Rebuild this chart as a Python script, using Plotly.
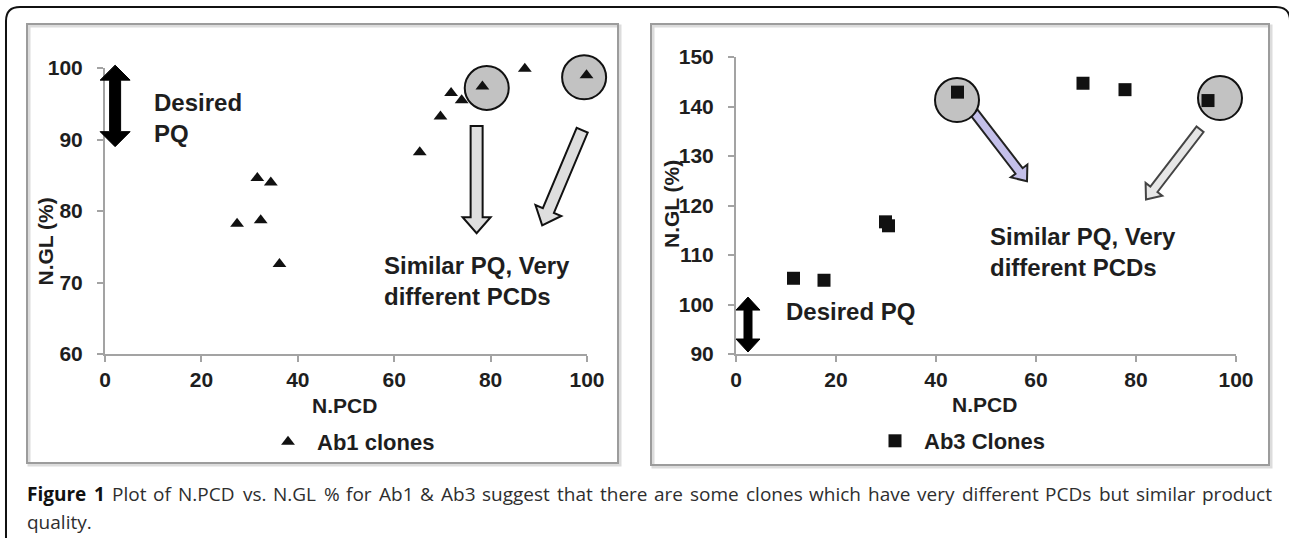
import math
import plotly.graph_objects as go

# ---------------- data ----------------
ab1_pcd = [27.4, 31.6, 32.3, 34.4, 36.2, 65.3, 69.6, 71.8, 74.0, 78.3, 87.1, 99.9]
ab1_gl = [78.2, 84.6, 78.7, 84.0, 72.6, 88.2, 93.2, 96.5, 95.5, 97.4, 99.9, 99.0]
ab3_pcd = [11.5, 17.6, 29.9, 30.5, 44.3, 69.4, 77.8, 94.4]
ab3_gl = [105.3, 104.9, 116.7, 115.9, 142.9, 144.7, 143.4, 141.2]

x_ticks = [0, 20, 40, 60, 80, 100]
y1_ticks = [60, 70, 80, 90, 100]
y2_ticks = [90, 100, 110, 120, 130, 140, 150]

# highlighted clones (circle centres, data units)
ab1_circles = [(79.2, 97.2), (99.4, 98.7)]
ab3_circles = [(44.2, 141.3), (96.8, 141.7)]

# block arrows (start, tip) in data units
ab1_arrows = [((77.1, 91.9), (77.1, 76.9)), ((99.0, 91.3), (90.7, 78.0))]
ab3_arrows = [((47.6, 138.8), (58.2, 124.9)), ((92.8, 135.4), (82.0, 121.2))]
ab1_desired = ((2.1, 100.4), (2.1, 89.0))
ab3_desired = ((2.4, 101.5), (2.4, 90.4))

caption_words = ["Figure", "1", "Plot", "of", "N.PCD", "vs.", "N.GL", "%", "for", "Ab1", "&", "Ab3",
                 "suggest", "that", "there", "are", "some", "clones", "which", "have", "very",
                 "different", "PCDs", "but", "similar", "product"]
caption_bold_words = 2
caption_line2 = "quality."

# ---------------- layout geometry (pixels) ----------------
W, H = 1289, 538
L = dict(x0=105, x1=587, ytop=68, ybot=354, xr=(0, 100), yr=(60, 100))
R = dict(x0=736, x1=1236, ytop=57, ybot=354, xr=(0, 100), yr=(90, 150))


def d2px(ax, x, y):
    px = ax["x0"] + (x - ax["xr"][0]) / (ax["xr"][1] - ax["xr"][0]) * (ax["x1"] - ax["x0"])
    py = ax["ybot"] - (y - ax["yr"][0]) / (ax["yr"][1] - ax["yr"][0]) * (ax["ybot"] - ax["ytop"])
    return px, py


def p2paper(px, py):
    return px / W, 1 - py / H


def path_from_px(pts):
    s = ""
    for i, (px, py) in enumerate(pts):
        X, Y = p2paper(px, py)
        s += ("M" if i == 0 else "L") + f"{X:.5f},{Y:.5f} "
    return s + "Z"


def block_arrow(S, T, w, hw, hl):
    dx, dy = T[0] - S[0], T[1] - S[1]
    ln = math.hypot(dx, dy)
    ux, uy = dx / ln, dy / ln
    nx, ny = -uy, ux
    B = (T[0] - ux * hl, T[1] - uy * hl)
    pts = [
        (S[0] + nx * w / 2, S[1] + ny * w / 2),
        (B[0] + nx * w / 2, B[1] + ny * w / 2),
        (B[0] + nx * hw / 2, B[1] + ny * hw / 2),
        T,
        (B[0] - nx * hw / 2, B[1] - ny * hw / 2),
        (B[0] - nx * w / 2, B[1] - ny * w / 2),
        (S[0] - nx * w / 2, S[1] - ny * w / 2),
    ]
    return path_from_px(pts)


def double_arrow(T1, T2, w, hw, hl):
    dx, dy = T2[0] - T1[0], T2[1] - T1[1]
    ln = math.hypot(dx, dy)
    ux, uy = dx / ln, dy / ln
    nx, ny = -uy, ux
    B1 = (T1[0] + ux * hl, T1[1] + uy * hl)
    B2 = (T2[0] - ux * hl, T2[1] - uy * hl)
    pts = [
        T1,
        (B1[0] + nx * hw / 2, B1[1] + ny * hw / 2),
        (B1[0] + nx * w / 2, B1[1] + ny * w / 2),
        (B2[0] + nx * w / 2, B2[1] + ny * w / 2),
        (B2[0] + nx * hw / 2, B2[1] + ny * hw / 2),
        T2,
        (B2[0] - nx * hw / 2, B2[1] - ny * hw / 2),
        (B2[0] - nx * w / 2, B2[1] - ny * w / 2),
        (B1[0] - nx * w / 2, B1[1] - ny * w / 2),
        (B1[0] - nx * hw / 2, B1[1] - ny * hw / 2),
    ]
    return path_from_px(pts)


# approximate Open Sans advance widths (units per 2048 em) for justification
OS_REG = {"a": 1139, "b": 1255, "c": 975, "d": 1255, "e": 1149, "f": 694, "g": 1122, "h": 1257,
          "i": 518, "l": 518, "m": 1905, "n": 1257, "o": 1237, "p": 1255, "r": 836, "s": 977,
          "t": 723, "u": 1257, "v": 1026, "w": 1593, "y": 1028, ".": 545, "%": 1696, "&": 1481,
          "1": 1171, "3": 1171, "A": 1296, "C": 1292, "D": 1493, "G": 1491, "L": 1063,
          "N": 1599, "P": 1260, "q": 1255}
OS_BOLD = {"F": 1165, "i": 616, "g": 1208, "u": 1337, "r": 963, "e": 1198, "1": 1171}


def word_w(word, size, bold=False):
    tab = OS_BOLD if bold else OS_REG
    return sum(tab.get(ch, 1150) for ch in word) / 2048 * size


FONT = "Liberation Sans, Arial, sans-serif"
TXT = "#1e1e1e"
AXC = "#a3a3a3"

fig = go.Figure()
fig.add_trace(go.Scatter(
    x=ab1_pcd, y=ab1_gl, mode="markers", name="<b>Ab1 clones</b>",
    marker=dict(symbol="triangle-up", size=12, color="#111111"),
    xaxis="x", yaxis="y", legend="legend", showlegend=True, cliponaxis=False,
))
fig.add_trace(go.Scatter(
    x=ab3_pcd, y=ab3_gl, mode="markers", name="<b>Ab3 Clones</b>",
    marker=dict(symbol="square", size=13, color="#111111"),
    xaxis="x2", yaxis="y2", legend="legend2", showlegend=True, cliponaxis=False,
))

shapes = []
# outer rounded border
r = 14
outer = ""
X, Y = p2paper(6, 545)
outer += f"M{X:.5f},{Y:.5f} "
X, Y = p2paper(6, 7 + r)
outer += f"L{X:.5f},{Y:.5f} "
cx, cy = p2paper(6, 7)
ex, ey = p2paper(6 + r, 7)
outer += f"Q{cx:.5f},{cy:.5f} {ex:.5f},{ey:.5f} "
X, Y = p2paper(1290 - r, 7)
outer += f"L{X:.5f},{Y:.5f} "
cx, cy = p2paper(1290, 7)
ex, ey = p2paper(1290, 7 + r)
outer += f"Q{cx:.5f},{cy:.5f} {ex:.5f},{ey:.5f} "
X, Y = p2paper(1290, 545)
outer += f"L{X:.5f},{Y:.5f}"
shapes.append(dict(type="path", path=outer, xref="paper", yref="paper",
                   line=dict(color="#111111", width=2), layer="below"))

# panel frames with soft shadow
for (a, b, c, d) in [(27, 24, 618, 463), (651, 24, 1269, 465)]:
    x0, y1 = p2paper(a + 2, b + 2)
    x1, y0 = p2paper(c + 2, d + 2)
    shapes.append(dict(type="rect", xref="paper", yref="paper", x0=x0, x1=x1, y0=y0, y1=y1,
                       line=dict(color="#dcdcdc", width=3), layer="below"))
    x0, y1 = p2paper(a, b)
    x1, y0 = p2paper(c, d)
    shapes.append(dict(type="rect", xref="paper", yref="paper", x0=x0, x1=x1, y0=y0, y1=y1,
                       line=dict(color="#9c9c9c", width=2), layer="below"))

# block arrows
for (S, T) in ab1_arrows:
    shapes.append(dict(type="path", xref="paper", yref="paper",
                       path=block_arrow(d2px(L, *S), d2px(L, *T), 12, 28, 16),
                       fillcolor="#dedede", line=dict(color="#111111", width=2), layer="below"))
arrow_fills = ["#c4c0ea", "#e6e6e6"]
arrow_lines = ["#222222", "#444444"]
for i, (S, T) in enumerate(ab3_arrows):
    shapes.append(dict(type="path", xref="paper", yref="paper",
                       path=block_arrow(d2px(R, *S), d2px(R, *T), 9, 21, 13),
                       fillcolor=arrow_fills[i], line=dict(color=arrow_lines[i], width=2), layer="below"))

# double arrows (desired PQ)
shapes.append(dict(type="path", xref="paper", yref="paper",
                   path=double_arrow(d2px(L, *ab1_desired[0]), d2px(L, *ab1_desired[1]), 11, 30, 15),
                   fillcolor="#000000", line=dict(color="#000000", width=1), layer="above"))
shapes.append(dict(type="path", xref="paper", yref="paper",
                   path=double_arrow(d2px(R, *ab3_desired[0]), d2px(R, *ab3_desired[1]), 8, 24, 13),
                   fillcolor="#000000", line=dict(color="#000000", width=1), layer="above"))

# highlight circles
for ax, circles in [(L, ab1_circles), (R, ab3_circles)]:
    for (cxd, cyd) in circles:
        X, Y = p2paper(*d2px(ax, cxd, cyd))
        shapes.append(dict(type="circle", xref="paper", yref="paper",
                           xsizemode="pixel", ysizemode="pixel", xanchor=X, yanchor=Y,
                           x0=-22, x1=22, y0=-22, y1=22,
                           fillcolor="#c2c2c2", line=dict(color="#111111", width=2), layer="below"))

annotations = []
big = dict(family=FONT, size=24, color=TXT)
annotations.append(dict(x=9.75, y=93.0, xref="x", yref="y", text="<b>Desired<br>PQ</b>",
                        showarrow=False, xanchor="left", yanchor="middle", align="left", font=big))
annotations.append(dict(x=57.5, y=70.2, xref="x", yref="y", text="<b>Similar PQ, Very<br>different PCDs</b>",
                        showarrow=False, xanchor="left", yanchor="middle", align="left", font=big))
annotations.append(dict(x=9.6, y=98.5, xref="x2", yref="y2", text="<b>Desired PQ</b>",
                        showarrow=False, xanchor="left", yanchor="middle", align="left", font=big))
annotations.append(dict(x=50.4, y=110.6, xref="x2", yref="y2", text="<b>Similar PQ, Very<br>different PCDs</b>",
                        showarrow=False, xanchor="left", yanchor="middle", align="left", font=big))

# axis titles
tf = dict(family=FONT, size=21, color=TXT)
for (px, py, txt, ang) in [(44.5, 242, "N.GL (%)", -90), (671, 204, "N.GL (%)", -90),
                           (344, 405, "N.PCD", 0), (984, 404, "N.PCD", 0)]:
    X, Y = p2paper(px, py)
    annotations.append(dict(x=X, y=Y, xref="paper", yref="paper", text=f"<b>{txt}</b>",
                            showarrow=False, xanchor="center", yanchor="middle", textangle=ang, font=tf))

# caption: justified first line built word by word
CAP_SIZE = 19
cap_font = dict(family="Open Sans, sans-serif", size=CAP_SIZE, color="#2e2e2e")
cap_left, cap_right, cap_y1, cap_y2 = 25, 1270, 494, 522
widths = [word_w(wd, CAP_SIZE, i < caption_bold_words) for i, wd in enumerate(caption_words)]
gap = (cap_right - cap_left - sum(widths)) / (len(caption_words) - 1)
xpos = cap_left
for i, wd in enumerate(caption_words):
    txt = wd.replace("&", "&amp;")
    if i < caption_bold_words:
        txt = f"<b>{txt}</b>"
    X, Y = p2paper(xpos, cap_y1)
    annotations.append(dict(x=X, y=Y, xref="paper", yref="paper", text=txt, showarrow=False,
                            xanchor="left", yanchor="middle",
                            font=dict(cap_font, color="#111111") if i < caption_bold_words else cap_font))
    xpos += widths[i] + gap
X, Y = p2paper(cap_left, cap_y2)
annotations.append(dict(x=X, y=Y, xref="paper", yref="paper", text=caption_line2, showarrow=False,
                        xanchor="left", yanchor="middle", font=cap_font))

tickfont = dict(family=FONT, size=21, color=TXT, weight="bold")
axis_common = dict(showgrid=False, zeroline=False, showline=True, linecolor=AXC, linewidth=2,
                   ticks="outside", ticklen=6, tickwidth=2, tickcolor=AXC, tickfont=tickfont,
                   fixedrange=True, automargin=False)

legend_font = dict(family=FONT, size=22, color=TXT)
fig.update_layout(
    width=W, height=H, margin=dict(l=0, r=0, t=0, b=0, pad=0, autoexpand=False),
    paper_bgcolor="white", plot_bgcolor="white", showlegend=True,
    xaxis=dict(domain=[L["x0"] / W, L["x1"] / W], range=list(L["xr"]), tickvals=x_ticks,
               anchor="y", ticklabelstandoff=0, **axis_common),
    yaxis=dict(domain=[1 - L["ybot"] / H, 1 - L["ytop"] / H], range=list(L["yr"]), tickvals=y1_ticks,
               anchor="x", ticklabelstandoff=10, **axis_common),
    xaxis2=dict(domain=[R["x0"] / W, R["x1"] / W], range=list(R["xr"]), tickvals=x_ticks,
                anchor="y2", ticklabelstandoff=0, **axis_common),
    yaxis2=dict(domain=[1 - R["ybot"] / H, 1 - R["ytop"] / H], range=list(R["yr"]), tickvals=y2_ticks,
                anchor="x2", ticklabelstandoff=10, **axis_common),
    legend=dict(x=259 / W, y=1 - 442 / H, xanchor="left", yanchor="middle", visible=True,
                itemwidth=48, bgcolor="rgba(0,0,0,0)", font=legend_font),
    legend2=dict(x=866 / W, y=1 - 441 / H, xanchor="left", yanchor="middle", visible=True,
                 itemwidth=48, bgcolor="rgba(0,0,0,0)", font=legend_font),
    shapes=shapes, annotations=annotations, hovermode=False,
)

fig.write_html(
    "out.html",
    config={"displayModeBar": False, "responsive": False},
    post_script="document.body.style.margin='0px';document.body.style.overflow='hidden';",
)
